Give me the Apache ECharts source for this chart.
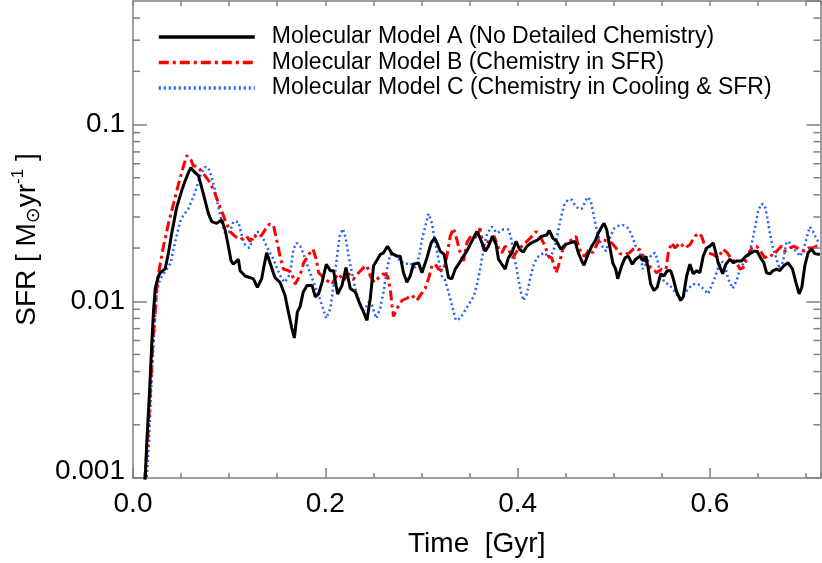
<!DOCTYPE html>
<html>
<head>
<meta charset="utf-8">
<script src="https://cdn.jsdelivr.net/npm/echarts@6/dist/echarts.min.js"></script>
<style>
html,body{margin:0;padding:0;background:#fff;}
#chart{width:822px;height:563px;}
</style>
</head>
<body>
<div id="chart"></div>
<script>
// ---------------- data ----------------
const seriesNames = [
  'Molecular Model A (No Detailed Chemistry)',
  'Molecular Model B (Chemistry in SFR)',
  'Molecular Model C (Chemistry in Cooling & SFR)'
];
const xMin = 0, xMax = 0.715;
const yMin = 0.001, yMax = 0.5;
const xMajorTicks = [0.0, 0.2, 0.4, 0.6];
const yMajorTicks = [0.001, 0.01, 0.1];
const yMinorTicks = [0.002,0.003,0.004,0.005,0.006,0.007,0.008,0.009,
                     0.02,0.03,0.04,0.05,0.06,0.07,0.08,0.09,
                     0.2,0.3,0.4];

// Model A (black, solid)
const timeA = [0.0125,0.0143,0.0171,0.0195,0.0213,0.0231,0.0247,0.0265,0.0283,0.0335,0.0369,0.0403,0.0455,0.0507,0.0542,0.0577,0.0601,0.0646,0.0681,0.0732,0.0784,0.0819,0.0871,0.0923,0.0958,0.0992,0.1020,0.1044,0.1096,0.1114,0.1166,0.1218,0.1252,0.1294,0.1338,0.1363,0.1390,0.1425,0.1477,0.1529,0.1581,0.1616,0.1650,0.1678,0.1709,0.1737,0.1771,0.1810,0.1862,0.1896,0.1930,0.1966,0.2010,0.2052,0.2086,0.2128,0.2174,0.2215,0.2260,0.2312,0.2364,0.2398,0.2433,0.2468,0.2502,0.2543,0.2571,0.2606,0.2647,0.2693,0.2745,0.2779,0.2813,0.2849,0.2883,0.2917,0.2969,0.3005,0.3057,0.3101,0.3136,0.3161,0.3195,0.3236,0.3281,0.3316,0.3351,0.3395,0.3437,0.3472,0.3506,0.3541,0.3576,0.3610,0.3662,0.3697,0.3738,0.3777,0.3801,0.3836,0.3870,0.3904,0.3940,0.3984,0.4019,0.4060,0.4096,0.4148,0.4200,0.4251,0.4303,0.4330,0.4366,0.4407,0.4449,0.4494,0.4545,0.4597,0.4632,0.4667,0.4691,0.4725,0.4771,0.4805,0.4839,0.4875,0.4899,0.4927,0.4961,0.4989,0.5020,0.5041,0.5083,0.5117,0.5151,0.5193,0.5228,0.5273,0.5307,0.5335,0.5359,0.5384,0.5418,0.5452,0.5488,0.5522,0.5556,0.5592,0.5619,0.5654,0.5696,0.5723,0.5758,0.5792,0.5826,0.5862,0.5896,0.5930,0.5966,0.6000,0.6034,0.6062,0.6086,0.6132,0.6166,0.6208,0.6242,0.6277,0.6329,0.6374,0.6416,0.6457,0.6491,0.6527,0.6561,0.6589,0.6623,0.6658,0.6693,0.6727,0.6769,0.6813,0.6859,0.6894,0.6928,0.6956,0.6987,0.7021,0.7057,0.7091,0.7143];
const sfrA = [0.00095,0.00158,0.0030,0.0057,0.0087,0.0118,0.0128,0.0139,0.0145,0.0153,0.0188,0.0243,0.0341,0.0423,0.0480,0.0534,0.0570,0.0534,0.0514,0.0405,0.0313,0.0282,0.0276,0.0288,0.0254,0.0205,0.0169,0.0162,0.0173,0.0149,0.0139,0.0136,0.0134,0.0120,0.0134,0.0159,0.0188,0.0165,0.0136,0.0128,0.0108,0.0087,0.0071,0.0062,0.0087,0.0093,0.0113,0.0123,0.0123,0.0106,0.0110,0.0128,0.0162,0.0149,0.0149,0.0110,0.0123,0.0155,0.0118,0.0113,0.0095,0.0087,0.0078,0.0104,0.0159,0.0173,0.0184,0.0188,0.0205,0.0186,0.0180,0.0180,0.0145,0.0128,0.0139,0.0162,0.0165,0.0145,0.0176,0.0214,0.0228,0.0214,0.0192,0.0184,0.0136,0.0134,0.0152,0.0165,0.0180,0.0192,0.0209,0.0228,0.0248,0.0228,0.0192,0.0205,0.0233,0.0209,0.0173,0.0162,0.0152,0.0176,0.0188,0.0218,0.0197,0.0190,0.0205,0.0215,0.0221,0.0233,0.0237,0.0251,0.0228,0.0218,0.0197,0.0209,0.0214,0.0218,0.0188,0.0169,0.0160,0.0180,0.0205,0.0218,0.0243,0.0264,0.0276,0.0254,0.0200,0.0165,0.0152,0.0134,0.0159,0.0176,0.0180,0.0162,0.0173,0.0180,0.0169,0.0180,0.0152,0.0125,0.0115,0.0120,0.0143,0.0139,0.0149,0.0149,0.0134,0.0113,0.0101,0.0106,0.0139,0.0162,0.0143,0.0149,0.0145,0.0180,0.0200,0.0205,0.0214,0.0188,0.0165,0.0143,0.0162,0.0173,0.0165,0.0169,0.0169,0.0180,0.0186,0.0192,0.0192,0.0176,0.0165,0.0145,0.0143,0.0149,0.0152,0.0149,0.0159,0.0165,0.0152,0.0128,0.0110,0.0120,0.0159,0.0188,0.0197,0.0186,0.0184];

// Model B (red, dash-dot)
const timeB = [0.0120,0.0151,0.0179,0.0206,0.0231,0.0247,0.0265,0.0317,0.0369,0.0421,0.0473,0.0525,0.0559,0.0601,0.0629,0.0663,0.0698,0.0750,0.0802,0.0854,0.0906,0.0958,0.1010,0.1062,0.1114,0.1182,0.1218,0.1252,0.1304,0.1338,0.1374,0.1418,0.1460,0.1494,0.1529,0.1564,0.1616,0.1650,0.1685,0.1719,0.1745,0.1775,0.1827,0.1872,0.1906,0.1930,0.1966,0.2018,0.2070,0.2104,0.2138,0.2190,0.2242,0.2294,0.2346,0.2398,0.2433,0.2468,0.2509,0.2554,0.2606,0.2647,0.2675,0.2693,0.2710,0.2745,0.2797,0.2849,0.2901,0.2953,0.2987,0.3039,0.3073,0.3109,0.3143,0.3177,0.3229,0.3264,0.3299,0.3333,0.3368,0.3403,0.3437,0.3472,0.3506,0.3541,0.3576,0.3610,0.3645,0.3680,0.3714,0.3756,0.3801,0.3836,0.3870,0.3904,0.3950,0.3992,0.4044,0.4096,0.4148,0.4192,0.4234,0.4286,0.4320,0.4355,0.4400,0.4434,0.4470,0.4511,0.4563,0.4608,0.4632,0.4667,0.4701,0.4746,0.4781,0.4816,0.4850,0.4891,0.4933,0.4979,0.5023,0.5065,0.5117,0.5162,0.5203,0.5239,0.5273,0.5307,0.5359,0.5411,0.5446,0.5498,0.5543,0.5567,0.5602,0.5636,0.5688,0.5740,0.5792,0.5844,0.5878,0.5914,0.5948,0.5982,0.6034,0.6086,0.6138,0.6180,0.6225,0.6277,0.6312,0.6346,0.6381,0.6433,0.6485,0.6527,0.6571,0.6623,0.6658,0.6693,0.6745,0.6779,0.6831,0.6873,0.6935,0.6977,0.7021,0.7067,0.7109,0.7143];
const sfrB = [0.00095,0.00158,0.0030,0.0057,0.0087,0.0118,0.0143,0.0205,0.0276,0.0356,0.0460,0.0582,0.0668,0.0633,0.0582,0.0582,0.0555,0.0512,0.0470,0.0405,0.0341,0.0288,0.0248,0.0233,0.0223,0.0233,0.0218,0.0237,0.0228,0.0237,0.0254,0.0273,0.0270,0.0223,0.0180,0.0152,0.0149,0.0145,0.0125,0.0134,0.0145,0.0165,0.0184,0.0197,0.0173,0.0145,0.0139,0.0131,0.0125,0.0136,0.0143,0.0131,0.0143,0.0134,0.0145,0.0155,0.0159,0.0139,0.0128,0.0136,0.0143,0.0139,0.0118,0.0095,0.0082,0.0091,0.0101,0.0104,0.0108,0.0101,0.0108,0.0118,0.0134,0.0159,0.0162,0.0152,0.0149,0.0180,0.0233,0.0259,0.0223,0.0188,0.0169,0.0214,0.0230,0.0237,0.0228,0.0259,0.0197,0.0209,0.0228,0.0233,0.0200,0.0188,0.0205,0.0197,0.0176,0.0192,0.0205,0.0218,0.0233,0.0248,0.0233,0.0205,0.0180,0.0176,0.0145,0.0165,0.0197,0.0214,0.0223,0.0233,0.0205,0.0184,0.0180,0.0197,0.0188,0.0205,0.0223,0.0223,0.0218,0.0214,0.0200,0.0186,0.0184,0.0188,0.0197,0.0200,0.0195,0.0180,0.0159,0.0152,0.0145,0.0152,0.0152,0.0188,0.0214,0.0200,0.0214,0.0200,0.0209,0.0233,0.0243,0.0233,0.0205,0.0188,0.0184,0.0176,0.0197,0.0188,0.0173,0.0165,0.0152,0.0155,0.0173,0.0200,0.0205,0.0192,0.0176,0.0184,0.0180,0.0192,0.0205,0.0192,0.0200,0.0205,0.0197,0.0192,0.0200,0.0200,0.0205,0.0205];

// Model C (blue, dotted)
const timeC = [0.0140,0.0166,0.0187,0.0213,0.0234,0.0247,0.0283,0.0351,0.0393,0.0421,0.0455,0.0490,0.0525,0.0577,0.0611,0.0646,0.0681,0.0715,0.0750,0.0784,0.0819,0.0854,0.0888,0.0923,0.0958,0.1010,0.1044,0.1096,0.1130,0.1166,0.1210,0.1252,0.1294,0.1338,0.1390,0.1425,0.1460,0.1501,0.1546,0.1581,0.1633,0.1668,0.1702,0.1740,0.1775,0.1827,0.1878,0.1930,0.1976,0.2010,0.2052,0.2086,0.2122,0.2149,0.2184,0.2215,0.2242,0.2277,0.2312,0.2356,0.2398,0.2450,0.2485,0.2530,0.2571,0.2606,0.2641,0.2675,0.2727,0.2779,0.2831,0.2883,0.2935,0.2977,0.3005,0.3039,0.3073,0.3109,0.3143,0.3177,0.3212,0.3247,0.3281,0.3316,0.3358,0.3403,0.3455,0.3506,0.3541,0.3576,0.3603,0.3628,0.3662,0.3686,0.3732,0.3784,0.3852,0.3904,0.3929,0.3956,0.3984,0.4008,0.4033,0.4060,0.4096,0.4130,0.4164,0.4199,0.4241,0.4286,0.4320,0.4355,0.4390,0.4424,0.4452,0.4483,0.4522,0.4563,0.4597,0.4632,0.4667,0.4701,0.4725,0.4760,0.4795,0.4823,0.4857,0.4891,0.4919,0.4943,0.4971,0.5006,0.5047,0.5099,0.5151,0.5193,0.5228,0.5273,0.5301,0.5342,0.5394,0.5429,0.5452,0.5473,0.5498,0.5532,0.5584,0.5636,0.5681,0.5723,0.5775,0.5826,0.5878,0.5930,0.5982,0.6018,0.6052,0.6086,0.6122,0.6156,0.6190,0.6236,0.6277,0.6312,0.6353,0.6398,0.6433,0.6457,0.6478,0.6502,0.6537,0.6571,0.6595,0.6623,0.6658,0.6693,0.6727,0.6762,0.6797,0.6831,0.6866,0.6901,0.6935,0.6969,0.7005,0.7039,0.7073,0.7109,0.7143];
const sfrC = [0.00095,0.00158,0.0030,0.0057,0.0088,0.0113,0.0134,0.0152,0.0165,0.0197,0.0237,0.0282,0.0307,0.0334,0.0372,0.0414,0.0480,0.0534,0.0575,0.0570,0.0501,0.0423,0.0341,0.0282,0.0243,0.0248,0.0282,0.0282,0.0237,0.0209,0.0200,0.0228,0.0248,0.0237,0.0205,0.0188,0.0173,0.0152,0.0134,0.0128,0.0143,0.0197,0.0214,0.0205,0.0184,0.0152,0.0128,0.0108,0.0091,0.0080,0.0091,0.0123,0.0180,0.0233,0.0257,0.0223,0.0180,0.0145,0.0118,0.0099,0.0087,0.0099,0.0095,0.0080,0.0091,0.0113,0.0152,0.0184,0.0184,0.0169,0.0162,0.0165,0.0155,0.0180,0.0223,0.0264,0.0313,0.0276,0.0214,0.0173,0.0139,0.0131,0.0113,0.0095,0.0078,0.0080,0.0089,0.0099,0.0106,0.0123,0.0145,0.0173,0.0218,0.0243,0.0264,0.0243,0.0255,0.0255,0.0233,0.0188,0.0159,0.0134,0.0113,0.0101,0.0110,0.0134,0.0159,0.0176,0.0184,0.0188,0.0176,0.0184,0.0205,0.0254,0.0300,0.0349,0.0375,0.0375,0.0349,0.0334,0.0334,0.0364,0.0388,0.0372,0.0300,0.0254,0.0218,0.0200,0.0192,0.0214,0.0237,0.0259,0.0267,0.0270,0.0259,0.0233,0.0205,0.0190,0.0152,0.0165,0.0184,0.0188,0.0173,0.0152,0.0136,0.0128,0.0123,0.0113,0.0104,0.0108,0.0118,0.0125,0.0125,0.0118,0.0110,0.0123,0.0136,0.0155,0.0169,0.0159,0.0134,0.0118,0.0131,0.0152,0.0165,0.0184,0.0209,0.0243,0.0276,0.0327,0.0356,0.0349,0.0300,0.0243,0.0197,0.0173,0.0152,0.0169,0.0218,0.0214,0.0197,0.0192,0.0180,0.0192,0.0228,0.0264,0.0248,0.0223,0.0214];

// ---------------- chart ----------------
const FONT = 'Liberation Sans';
const AXIS_COLOR = '#808080';
const pairs = (xs, ys) => xs.map((x, i) => [x, ys[i]]);
const yLabel = v => {
  const idx = yMajorTicks.findIndex(t => Math.abs(Math.log10(t) - Math.log10(v)) < 1e-6);
  if (idx < 0) return '';
  return idx === 0 ? '{lo|' + yMajorTicks[idx] + '}' : String(yMajorTicks[idx]);
};

const chart = echarts.init(document.getElementById('chart'), null, {renderer: 'canvas'});

const baseX = {
  type: 'value', min: xMin, max: xMax, splitLine: {show: false},
  axisLine: {show: false}, axisLabel: {show: false}
};
const baseY = {
  type: 'log', logBase: 10, min: yMin, max: yMax, splitLine: {show: false},
  axisLine: {show: false}, axisLabel: {show: false}
};

chart.setOption({
  animation: false,
  backgroundColor: '#ffffff',
  grid: {left: 133, right: 1.5, top: 1, bottom: 77, containLabel: false},
  legend: {
    data: seriesNames,
    orient: 'vertical',
    left: 157, top: 24.5,
    padding: 0,
    itemWidth: 96, itemHeight: 25, itemGap: 0.5,
    itemStyle: {opacity: 0},
    lineStyle: {width: 3.6},
    textStyle: {fontFamily: FONT, fontSize: 23, color: '#000', padding: [0, 0, 0, 12], lineHeight: 25},
    selectedMode: false
  },
  xAxis: [
    Object.assign({}, baseX, {
      position: 'bottom', interval: 0.2,
      axisLine: {show: true, onZero: false, lineStyle: {color: AXIS_COLOR, width: 1.5}},
      axisTick: {show: true, inside: true, length: 10, lineStyle: {color: AXIS_COLOR, width: 1.5}},
      axisLabel: {show: true, showMaxLabel: false, margin: 12, fontFamily: FONT, fontSize: 28, color: '#000',
        formatter: v => xMajorTicks.some(t => Math.abs(t - v) < 1e-9) ? v.toFixed(1) : ''},
      name: 'Time  [Gyr]', nameLocation: 'middle', nameGap: 52,
      nameTextStyle: {fontFamily: FONT, fontSize: 28, color: '#000'}
    }),
    Object.assign({}, baseX, {
      position: 'bottom', interval: 0.05,
      axisTick: {show: true, inside: true, length: 5, lineStyle: {color: AXIS_COLOR, width: 1.5}}
    }),
    Object.assign({}, baseX, {
      position: 'top', interval: 0.2,
      axisLine: {show: true, onZero: false, lineStyle: {color: AXIS_COLOR, width: 1.5}},
      axisTick: {show: true, inside: true, length: 5, lineStyle: {color: AXIS_COLOR, width: 1.5}}
    }),
    Object.assign({}, baseX, {
      position: 'top', interval: 0.05,
      axisTick: {show: true, inside: true, length: 5, lineStyle: {color: AXIS_COLOR, width: 1.5}}
    })
  ],
  yAxis: [
    Object.assign({}, baseY, {
      position: 'left',
      axisLine: {show: true, onZero: false, lineStyle: {color: AXIS_COLOR, width: 1.5}},
      axisTick: {show: true, inside: true, length: 14, lineStyle: {color: AXIS_COLOR, width: 1.5}},
      axisLabel: {show: true, showMaxLabel: false, margin: 8, fontFamily: FONT, fontSize: 28, color: '#000',
        formatter: yLabel,
        rich: {lo: {fontFamily: FONT, fontSize: 28, color: '#000', padding: [0, 0, 14, 0]}}},
      name: '{a|SFR [ M}{b|⊙}{a|yr}{c|-1}{a| ]}',
      nameLocation: 'middle', nameRotate: 90, nameGap: 88,
      nameTextStyle: {
        fontFamily: FONT, fontSize: 28, color: '#000',
        rich: {
          a: {fontFamily: FONT, fontSize: 28, color: '#000', lineHeight: 34, verticalAlign: 'middle'},
          b: {fontFamily: 'DejaVu Sans', fontSize: 19, color: '#000', lineHeight: 34, verticalAlign: 'bottom'},
          c: {fontFamily: FONT, fontSize: 17, color: '#000', lineHeight: 34, verticalAlign: 'top'}
        }
      }
    }),
    Object.assign({}, baseY, {
      position: 'right',
      axisLine: {show: true, onZero: false, lineStyle: {color: AXIS_COLOR, width: 1.5}},
      axisTick: {show: true, inside: true, length: 14, lineStyle: {color: AXIS_COLOR, width: 1.5}}
    })
  ],
  series: [
    {
      name: seriesNames[0], type: 'line', xAxisIndex: 0, yAxisIndex: 0,
      data: pairs(timeA, sfrA), symbol: 'none', showSymbol: false, clip: true, z: 4,
      lineStyle: {color: '#000000', width: 3, type: 'solid'}, itemStyle: {color: '#000000'}
    },
    {
      name: seriesNames[1], type: 'line', xAxisIndex: 0, yAxisIndex: 0,
      data: pairs(timeB, sfrB), symbol: 'none', showSymbol: false, clip: true, z: 3,
      lineStyle: {color: '#ff0000', width: 3, type: [10, 4, 3, 4], cap: 'butt'}, itemStyle: {color: '#ff0000'}
    },
    {
      name: seriesNames[2], type: 'line', xAxisIndex: 0, yAxisIndex: 0,
      data: pairs(timeC, sfrC), symbol: 'none', showSymbol: false, clip: true, z: 2,
      lineStyle: {color: '#2060ff', width: 2.5, type: [2, 3], cap: 'butt'}, itemStyle: {color: '#2060ff'}
    },
    {
      name: 'yMinorTicks', type: 'custom', xAxisIndex: 0, yAxisIndex: 0, silent: true, clip: false, z: 5,
      data: yMinorTicks.map(v => [xMin, v]),
      renderItem: function (params, api) {
        const v = api.value(1);
        const p = api.coord([xMin, v]);
        const q = api.coord([xMax, v]);
        const st = {stroke: AXIS_COLOR, lineWidth: 1.5};
        return {type: 'group', children: [
          {type: 'line', shape: {x1: p[0], y1: p[1], x2: p[0] + 7, y2: p[1]}, style: st},
          {type: 'line', shape: {x1: q[0] - 7, y1: q[1], x2: q[0], y2: q[1]}, style: st}
        ]};
      }
    }
  ]
});
</script>
</body>
</html>
